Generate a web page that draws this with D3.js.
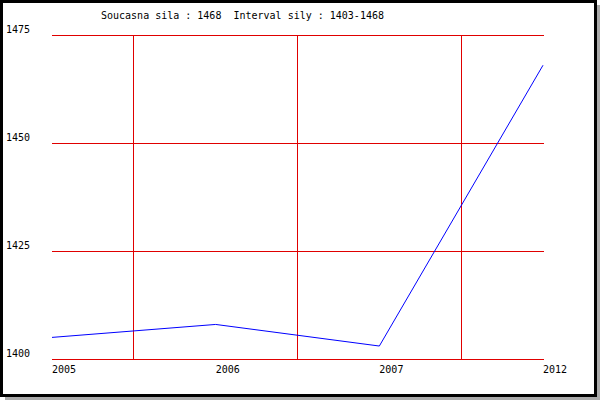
<!DOCTYPE html>
<html><head><meta charset="utf-8">
<script src="https://cdn.jsdelivr.net/npm/d3@7"></script>
<style>body{margin:0;background:#fff}svg{display:block}text{font-family:"DejaVu Sans Mono",monospace;font-size:10px;fill:#000}</style>
</head><body><svg id="c" width="600" height="400"></svg>
<script>
const categories = ["2005", "2006", "2007", "2012"];
const values = [1405, 1408, 1403, 1468];
const yTicks = [1400, 1425, 1450, 1475];
const titleText = "Soucasna sila : 1468  Interval sily : 1403-1468";

(function(){
const svg = d3.select("#c");
svg.append("rect").attr("x",5).attr("y",5).attr("width",595).attr("height",395).attr("fill","#aaaaaa");
svg.append("rect").attr("x",1.5).attr("y",1.5).attr("width",594).attr("height",394).attr("fill","#fff").attr("stroke","#000").attr("stroke-width",3);

const pL=52, pR=543, pT=35, pB=359;
const x = d3.scalePoint().domain(categories).range([pL,pR]);
const y = d3.scaleLinear().domain([1400,1475]).range([pB,pT]);
const g = svg.append("g").attr("shape-rendering","crispEdges");
const step = x.step();
g.selectAll(".vg").data(categories.slice(0,-1)).join("line")
  .attr("x1",d=>Math.floor(x(d)+step/2)+0.5).attr("x2",d=>Math.floor(x(d)+step/2)+0.5)
  .attr("y1",pT).attr("y2",pB).attr("stroke","#e00000");
g.selectAll(".hg").data(yTicks).join("line")
  .attr("x1",pL).attr("x2",pR+1)
  .attr("y1",d=>Math.round(y(d))+0.5).attr("y2",d=>Math.round(y(d))+0.5).attr("stroke","#e00000");

svg.selectAll(".yl").data(yTicks).join("text")
  .attr("x",6).attr("y",d=>y(d)-2).text(d=>d);
svg.selectAll(".xl").data(categories).join("text")
  .attr("x",d=>x(d)).attr("y",373).text(d=>d);

const line = d3.line().x((d,i)=>x(categories[i])).y(d=>y(d));
svg.append("path").datum(values).attr("d",line).attr("fill","none").attr("stroke","#0000ff").attr("stroke-width",1);

svg.append("text").attr("x",101).attr("y",19).style("white-space","pre").text(titleText);
})();
</script></body></html>
